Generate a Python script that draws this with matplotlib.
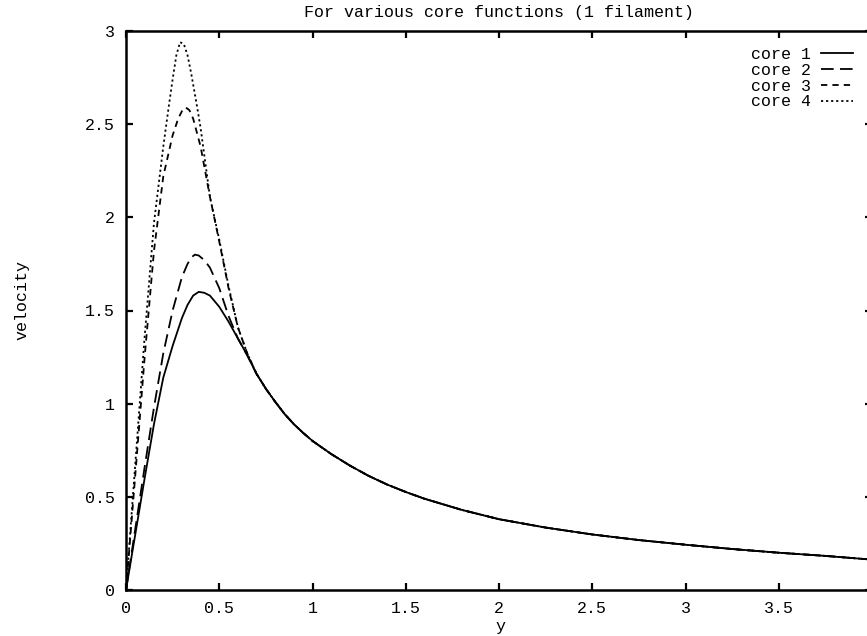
import numpy as np
import matplotlib.pyplot as plt

# values
tail_y = [0.7, 0.75, 0.8, 0.85, 0.9, 0.95, 1.0, 1.1, 1.2, 1.3, 1.4, 1.5, 1.6, 1.8, 2.0, 2.25, 2.5, 2.75, 3.0, 3.25, 3.5, 3.75, 4.0]
tail_v = [1.16, 1.08, 1.01, 0.945, 0.89, 0.843, 0.80, 0.73, 0.668, 0.613, 0.566, 0.526, 0.49, 0.43, 0.38, 0.335, 0.298, 0.268, 0.243, 0.22, 0.20, 0.183, 0.163]

core1_y = [0, 0.05, 0.1, 0.15, 0.2, 0.25, 0.3, 0.33, 0.36, 0.39, 0.42, 0.45, 0.5, 0.55, 0.6, 0.65]
core1_v = [0, 0.30, 0.60, 0.89, 1.14, 1.31, 1.46, 1.53, 1.58, 1.60, 1.595, 1.58, 1.52, 1.44, 1.35, 1.26]

core2_y = [0, 0.05, 0.1, 0.15, 0.2, 0.25, 0.3, 0.33, 0.35, 0.37, 0.39, 0.42, 0.45, 0.5, 0.55, 0.6, 0.65]
core2_v = [0, 0.33, 0.66, 0.98, 1.27, 1.50, 1.68, 1.75, 1.785, 1.80, 1.795, 1.77, 1.73, 1.62, 1.47, 1.35, 1.26]

core3_y = [0, 0.05, 0.1, 0.15, 0.2, 0.25, 0.28, 0.3, 0.32, 0.34, 0.36, 0.4, 0.45, 0.5, 0.55, 0.6, 0.65]
core3_v = [0, 0.62, 1.25, 1.82, 2.22, 2.44, 2.53, 2.57, 2.59, 2.575, 2.53, 2.38, 2.11, 1.87, 1.62, 1.41, 1.27]

core4_y = [0, 0.05, 0.1, 0.15, 0.2, 0.23, 0.25, 0.27, 0.29, 0.31, 0.33, 0.35, 0.38, 0.4, 0.45, 0.5, 0.55, 0.6, 0.65]
core4_v = [0, 0.68, 1.36, 1.97, 2.38, 2.60, 2.74, 2.87, 2.94, 2.93, 2.87, 2.77, 2.60, 2.48, 2.11, 1.88, 1.63, 1.41, 1.27]

labels = ["core 1", "core 2", "core 3", "core 4"]
xticks = [0, 0.5, 1, 1.5, 2, 2.5, 3, 3.5, 4]
xtick_labels = ["0", "0.5", "1", "1.5", "2", "2.5", "3", "3.5", ""]
yticks = [0, 0.5, 1, 1.5, 2, 2.5, 3]
ytick_labels = ["0", "0.5", "1", "1.5", "2", "2.5", "3"]

plt.rcParams['font.family'] = ['Liberation Mono', 'DejaVu Sans Mono']
plt.rcParams['font.size'] = 12

W, H = 867, 636
fig = plt.figure(figsize=(W / 100, H / 100), dpi=100)
# the scan is cropped on the right, the frame goes a little past the edge
ax = fig.add_axes([126 / W, (H - 590) / H, (872 - 126) / W, (590 - 31) / H])

styles = ['-', (0, (7, 3.5)), (0, (3.5, 2.8)), (0, (1.2, 1.6))]
curves = [(core1_y, core1_v), (core2_y, core2_v), (core3_y, core3_v), (core4_y, core4_v)]
for (ys, vs), ls, lab in zip(curves, styles, labels):
    ax.plot(ys + tail_y, vs + tail_v, color='black', lw=1.3, linestyle=ls, label=lab)

ax.set_xlim(0, 4)
ax.set_ylim(0, 3)
ax.set_xticks(xticks)
ax.set_xticklabels(xtick_labels)
ax.set_yticks(yticks)
ax.set_yticklabels(ytick_labels)
ax.tick_params(direction='in', length=5, width=1.6, top=True, right=True,
               labelsize=12, colors='black')
ax.tick_params(axis='x', pad=8)
ax.tick_params(axis='y', pad=8)
for s in ax.spines.values():
    s.set_linewidth(1.8)

leg = ax.legend(loc='upper right', bbox_to_anchor=(853 / W, 1 - 47 / H),
                bbox_transform=fig.transFigure, frameon=False, markerfirst=False,
                borderpad=0, borderaxespad=0, handlelength=1.9, handletextpad=0.6,
                labelspacing=0.05, fontsize=12)

fig.text(499 / W, 1 - 13 / H, "For various core functions (1 filament)",
         ha='center', va='center', fontsize=12)
fig.text(500 / W, 1 - 627 / H, "y", ha='center', va='center', fontsize=12)
fig.text(22 / W, 1 - 300 / H, "velocity", ha='center', va='center',
         rotation=90, fontsize=12)

fig.savefig("out.png", dpi=100)
